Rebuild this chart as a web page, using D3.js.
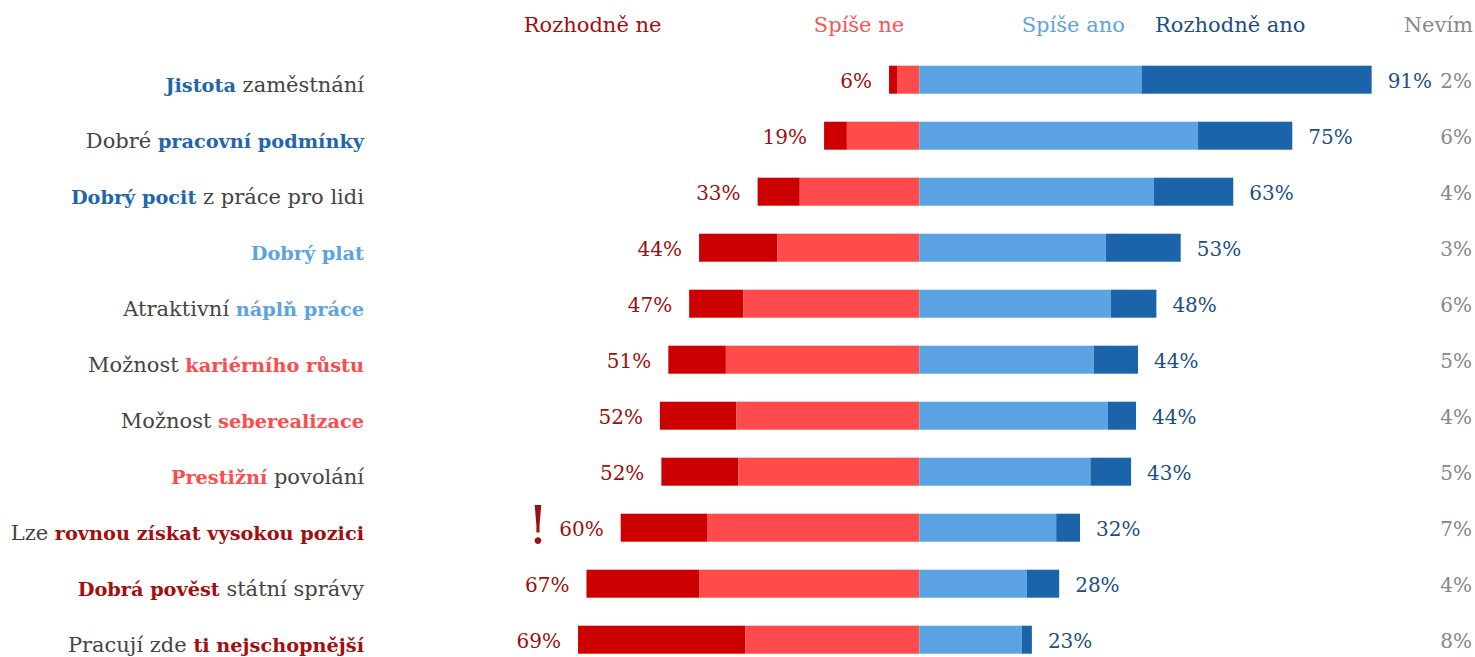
<!DOCTYPE html>
<html>
<head>
<meta charset="utf-8">
<script src="https://cdn.jsdelivr.net/npm/d3@7"></script>
<style>
  body { margin: 0; background: #fff; }
  svg { display: block; font-family: "DejaVu Serif", serif; }
</style>
</head>
<body>
<div id="chart"></div>
<script>
// label pieces: [text, colour key] ("" = plain grey)
var labelParts = [
    [["Jistota", "blue"], [" zaměstnání", ""]],
    [["Dobré ", ""], ["pracovní podmínky", "blue"]],
    [["Dobrý pocit", "blue"], [" z práce pro lidi", ""]],
    [["Dobrý plat", "lightblue"]],
    [["Atraktivní ", ""], ["náplň práce", "lightblue"]],
    [["Možnost ", ""], ["kariérního růstu", "lightred"]],
    [["Možnost ", ""], ["seberealizace", "lightred"]],
    [["Prestižní", "lightred"], [" povolání", ""]],
    [["Lze ", ""], ["rovnou získat vysokou pozici", "red"]],
    [["Dobrá pověst", "red"], [" státní správy", ""]],
    [["Pracují zde ", ""], ["ti nejschopnější", "red"]]
];

var definitelyNo  = [1.6, 4.6, 8.5, 15.8, 10.9, 11.6, 15.4, 15.5, 17.4, 22.7, 33.7];
var ratherNo      = [4.5, 14.6, 24.1, 28.6, 35.5, 39.0, 36.9, 36.5, 42.8, 44.4, 35.1];
var ratherYes     = [44.8, 56.2, 47.3, 37.6, 38.6, 35.2, 38.0, 34.5, 27.6, 21.7, 20.7];
var definitelyYes = [46.4, 19.0, 16.0, 15.1, 9.2, 8.9, 5.7, 8.2, 4.8, 6.5, 2.0];

var noTotals  = [6, 19, 33, 44, 47, 51, 52, 52, 60, 67, 69];
var yesTotals = [91, 75, 63, 53, 48, 44, 44, 43, 32, 28, 23];
var dontKnow  = [2, 6, 4, 3, 6, 5, 4, 5, 7, 4, 8];

var headers = ["Rozhodně ne", "Spíše ne", "Spíše ano", "Rozhodně ano", "Nevím"];

var width = 1475,
    height = 657,
    fontSize = 20;

var colors = {
    red: "#cc0000",
    lightred: "#ff4b4b",
    lightblue: "#5ba3e3",
    blue: "#1c64aa"
};

var labelColors = {
    "": "#444444",
    red: "#a30f0f",
    lightred: "#ff4b4b",
    lightblue: "#5ba3e3",
    blue: "#1f66ad"
};

var svg = d3.select("#chart").append("svg")
    .attr("width", width)
    .attr("height", height);

// set the ranges
var x = d3.scaleLinear().domain([-100, 100]).range([423.3, 1415.3]);

var y = d3.scaleBand()
    .domain(d3.range(labelParts.length))
    .range([51.7, 667.7])
    .paddingInner(0.5)
    .paddingOuter(0.25);

var rows = d3.range(labelParts.length).map(function(i) {
    return {
        i: i,
        segs: [
            {x0: -definitelyNo[i] - ratherNo[i], x1: -ratherNo[i], c: colors.red},
            {x0: -ratherNo[i], x1: 0, c: colors.lightred},
            {x0: 0, x1: ratherYes[i], c: colors.lightblue},
            {x0: ratherYes[i], x1: ratherYes[i] + definitelyYes[i], c: colors.blue}
        ]
    };
});

// headers
var headerX = [592.6, 859, 1073.3, 1230.3, 1473],
    headerAnchor = ["middle", "middle", "middle", "middle", "end"],
    headerColor = ["#a30f0f", "#ff5252", "#5ba3e3", "#1c4f85", "#888888"];

svg.append("g").selectAll("text")
    .data(headers)
    .enter().append("text")
    .attr("x", function(d, i) { return headerX[i]; })
    .attr("y", 32)
    .attr("text-anchor", function(d, i) { return headerAnchor[i]; })
    .attr("fill", function(d, i) { return headerColor[i]; })
    .style("font-size", "21px")
    .text(function(d) { return d; });

// bars
var row = svg.append("g").selectAll("g")
    .data(rows)
    .enter().append("g")
    .attr("transform", function(d) { return "translate(0," + y(d.i) + ")"; });

row.selectAll("rect")
    .data(function(d) { return d.segs; })
    .enter().append("rect")
    .attr("x", function(d) { return x(d.x0); })
    .attr("width", function(d) { return x(d.x1) - x(d.x0); })
    .attr("height", y.bandwidth())
    .attr("fill", function(d) { return d.c; });

// category labels
var labels = svg.append("g").selectAll("text")
    .data(labelParts)
    .enter().append("text")
    .attr("x", 364)
    .attr("y", function(d, i) { return y(i) + y.bandwidth() / 2 + 12; })
    .attr("text-anchor", "end");

labels.selectAll("tspan")
    .data(function(d) { return d; })
    .enter().append("tspan")
    .attr("fill", function(d) { return labelColors[d[1]]; })
    .style("font-weight", function(d) { return d[1] ? "bold" : "normal"; })
    .style("font-size", function(d) { return d[1] ? "19.3px" : "21px"; })
    .text(function(d) { return d[0]; });

// totals left
svg.append("g").selectAll("text")
    .data(noTotals)
    .enter().append("text")
    .attr("x", function(d, i) { return x(-definitelyNo[i] - ratherNo[i]) - 17; })
    .attr("y", function(d, i) { return y(i) + y.bandwidth() / 2 + 8; })
    .attr("text-anchor", "end")
    .attr("fill", "#9b1010")
    .style("font-size", fontSize + "px")
    .text(function(d) { return d + "%"; });

// totals right
svg.append("g").selectAll("text")
    .data(yesTotals)
    .enter().append("text")
    .attr("x", function(d, i) { return x(ratherYes[i] + definitelyYes[i]) + 16; })
    .attr("y", function(d, i) { return y(i) + y.bandwidth() / 2 + 8; })
    .attr("fill", "#1c4f85")
    .style("font-size", fontSize + "px")
    .text(function(d) { return d + "%"; });

// don't know
svg.append("g").selectAll("text")
    .data(dontKnow)
    .enter().append("text")
    .attr("x", 1472)
    .attr("y", function(d, i) { return y(i) + y.bandwidth() / 2 + 8; })
    .attr("text-anchor", "end")
    .attr("fill", "#888888")
    .style("font-size", fontSize + "px")
    .text(function(d) { return d + "%"; });

// exclamation mark next to row 9
svg.append("text")
    .attr("x", 538)
    .attr("y", y(8) + y.bandwidth() / 2 + 15)
    .attr("text-anchor", "middle")
    .attr("fill", "#9b1010")
    .style("font-size", "52px")
    .text("!");
</script>
</body>
</html>
